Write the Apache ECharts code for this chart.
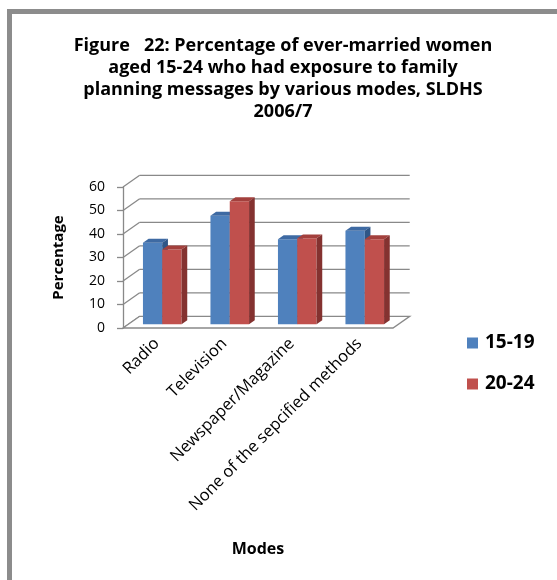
<!DOCTYPE html>
<html>
<head>
<meta charset="utf-8">
<script src="https://cdn.jsdelivr.net/npm/echarts@6/dist/echarts.min.js"></script>
<style>
html,body{margin:0;padding:0;background:#fff;}
#chart{width:557px;height:580px;}
</style>
</head>
<body>
<div id="chart"></div>
<script>
// ---- data ----
const categories = ['Radio', 'Television', 'Newspaper/Magazine', 'None of the sepcified methods'];
const seriesNames = ['15-19', '20-24'];
const values1519 = [34.6, 46.1, 36.1, 39.7];
const values2024 = [31.8, 52.3, 36.5, 36.1];
const yTicks = [0, 10, 20, 30, 40, 50, 60];
const titleLines = ['Figure   22: Percentage of ever-married women', 'aged 15-24 who had exposure to family', 'planning messages by various modes, SLDHS', '2006/7'];

// ---- styling ----
const FONT = '"Open Sans", Lato, sans-serif';
const DX = 16.7, DY = -11.7;     // depth of 3D box
const F0 = 0.33, F1 = 0.67;      // bar depth fractions
const BAR_RATIO = 0.286;         // bar width / category width
const GRID_COLOR = '#898989';
const colors = [
  {front: '#4F81BD', top: '#3E6AA3', side: '#2F5687'},
  {front: '#C0504D', top: '#A3403D', side: '#843230'}
];

const chart = echarts.init(document.getElementById('chart'), null, {renderer: 'canvas'});

function barRender(sIdx) {
  return function (params, api) {
    const cat = api.value(0), v = api.value(1);
    const catW = api.size([1, 0])[0];
    const barW = catW * BAR_RATIO;
    const pTop = api.coord([cat, v]);
    const pBot = api.coord([cat, 0]);
    const x0 = pTop[0] + (sIdx === 0 ? -barW : 0) + F0 * DX;
    const x1 = x0 + barW;
    const yT = pTop[1] + F0 * DY;
    const yB = pBot[1] + F0 * DY;
    const dd = F1 - F0;
    const ddx = dd * DX, ddy = dd * DY;
    const c = colors[sIdx];
    return {
      type: 'group',
      children: [
        {type: 'rect', shape: {x: x0, y: yT, width: barW, height: yB - yT}, style: {fill: c.front}},
        {type: 'polygon', shape: {points: [[x0, yT], [x1, yT], [x1 + ddx, yT + ddy], [x0 + ddx, yT + ddy]]}, style: {fill: c.top}},
        {type: 'polygon', shape: {points: [[x1, yT], [x1 + ddx, yT + ddy], [x1 + ddx, yB + ddy], [x1, yB]]}, style: {fill: c.side}}
      ]
    };
  };
}

function wallRender(params, api) {
  const v = api.value(0);
  const cs = params.coordSys;
  const xL = cs.x, xR = cs.x + cs.width;
  const y = api.coord([0, v])[1];
  const st = {stroke: GRID_COLOR, lineWidth: 1.3, fill: null};
  const children = [
    {type: 'line', shape: {x1: xL, y1: y, x2: xL + DX, y2: y + DY}, style: st},
  ];
  if (v === 0) {
    children.push({type: 'polygon', shape: {points: [[xL, y], [xR, y], [xR + DX, y + DY], [xL + DX, y + DY]]}, style: {stroke: GRID_COLOR, lineWidth: 1.3, fill: '#fff'}});
  } else {
    children.push({type: 'line', shape: {x1: xL + DX, y1: y + DY, x2: xR + DX, y2: y + DY}, style: st});
  }
  return {type: 'group', children: children};
}

const option = {
  animation: false,
  textStyle: {fontFamily: FONT},
  graphic: [
    {type: 'rect', shape: {x: 7, y: 9, width: 550, height: 5}, style: {fill: '#8c8c8c'}},
    {type: 'rect', shape: {x: 7, y: 9, width: 5, height: 571}, style: {fill: '#8c8c8c'}},
    {type: 'text', x: 283, y: 35, style: {
      text: titleLines.join('\n'), textAlign: 'center', textVerticalAlign: 'top',
      font: 'bold 18px ' + FONT, lineHeight: 22, fill: '#000'}}
  ],
  legend: {
    data: seriesNames,
    orient: 'vertical',
    left: 467, top: 333, padding: 0,
    itemWidth: 11, itemHeight: 11, icon: 'rect',
    itemGap: 21,
    textStyle: {fontFamily: FONT, fontSize: 19, fontWeight: 'bold', color: '#000', lineHeight: 20, padding: [0, 0, 0, 2]}
  },
  grid: {left: 123, right: 164, top: 187, bottom: 252},
  xAxis: {
    type: 'category', data: categories,
    axisLine: {show: false}, axisTick: {show: false},
    axisLabel: {interval: 0, rotate: 45, margin: 13, fontSize: 16.5, color: '#000', fontFamily: FONT},
    name: 'Modes', nameLocation: 'middle', nameGap: 213,
    nameTextStyle: {fontFamily: FONT, fontSize: 16, fontWeight: 'bold', color: '#000'}
  },
  yAxis: {
    type: 'value', min: 0, max: 60, interval: 10,
    axisLine: {show: true, lineStyle: {color: GRID_COLOR, width: 1.3}},
    axisTick: {show: true, length: 6, lineStyle: {color: GRID_COLOR, width: 1.3}},
    splitLine: {show: false},
    axisLabel: {margin: 18, fontSize: 14, color: '#000', fontFamily: FONT},
    name: 'Percentage', nameLocation: 'middle', nameGap: 57, nameRotate: 90,
    nameTextStyle: {fontFamily: FONT, fontSize: 15, fontWeight: 'bold', color: '#000'}
  },
  series: [
    {name: 'walls', type: 'custom', renderItem: wallRender, data: yTicks.map(v => [v]), encode: {y: 0}, z: 1, silent: true},
    {name: seriesNames[0], type: 'custom', renderItem: barRender(0), itemStyle: {color: colors[0].front},
     data: values1519.map((v, i) => [i, v]), z: 2},
    {name: seriesNames[1], type: 'custom', renderItem: barRender(1), itemStyle: {color: colors[1].front},
     data: values2024.map((v, i) => [i, v]), z: 3}
  ]
};
chart.setOption(option);
</script>
</body>
</html>
